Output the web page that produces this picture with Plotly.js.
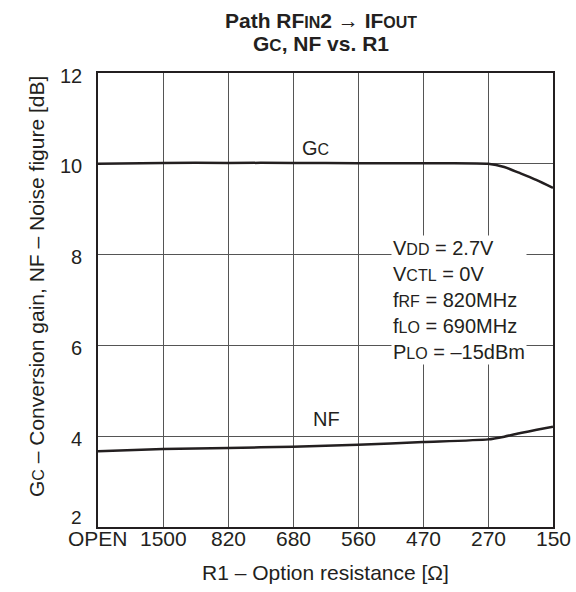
<!DOCTYPE html>
<html><head><meta charset="utf-8">
<script src="https://cdn.plot.ly/plotly-3.0.1.min.js"></script>
<style>body{margin:0;background:#fff}#c{width:576px;height:592px}</style>
</head><body><div id="c"></div>
<script>
const categories = ["OPEN","1500","820","680","560","470","270","150"];
const catPos = [0,1,2,3,4,5,6,7];
const gcX = [0,1,2,3,4,5,6,6.25,6.5,6.75,7];
const gcY = [10.0,10.02,10.02,10.02,10.01,10.01,10.0,9.93,9.79,9.64,9.47];
const nfX = [0,1,2,3,4,5,6,6.25,6.5,6.75,7];
const nfY = [3.67,3.72,3.74,3.77,3.81,3.87,3.93,3.99,4.07,4.14,4.21];
const yTicks = [2,4,6,8,10,12];
const sc = (t, s) => '<span style="font-size:' + (s || 15) + 'px">' + t + '</span>';
const ink = "#231f20";
const fam = "Liberation Sans, Arial, sans-serif";

const traces = [
  {x:gcX, y:gcY, mode:"lines", line:{color:ink, width:2.5, shape:"spline", smoothing:0.6}, hoverinfo:"skip"},
  {x:nfX, y:nfY, mode:"lines", line:{color:ink, width:2.5, shape:"spline", smoothing:0.6}, hoverinfo:"skip"}
];
const annotations = [
  {x:0.49, y:(527-20)/454, xref:"paper", yref:"paper", yanchor:"middle", height:22, borderpad:0,
   text:"<b>Path RF" + sc("<b>IN</b>", 16) + "2 → IF" + sc("<b>OUT</b>", 16) + "</b>",
   showarrow:false, font:{size:21}},
  {x:0.49, y:(527-43)/454, xref:"paper", yref:"paper", yanchor:"middle", height:22, borderpad:0,
   text:"<b>G" + sc("<b>C</b>", 17) + ", NF vs. R1</b>",
   showarrow:false, font:{size:21}},
  {x:0, y:0.5, xref:"paper", yref:"paper", xanchor:"center", yanchor:"middle", xshift:-62, yshift:13,
   textangle:-90, showarrow:false, font:{size:21},
   text:"G" + sc("C", 16) + " – Conversion gain, NF – Noise figure [dB]"},
  {x:3.35, y:10.35, xref:"x", yref:"y", text:"G" + sc("C", 16), showarrow:false, font:{size:20}},
  {x:3.52, y:4.38, xref:"x", yref:"y", text:"NF", showarrow:false, font:{size:20}},
  {x:4.5, y:7.0, xref:"x", yref:"y", xanchor:"left", yanchor:"middle", align:"left", showarrow:false,
   font:{size:20}, bgcolor:"#fff",
   text:"V" + sc("DD", 16) + " = 2.7V<br>V" + sc("CTL", 16) + " = 0V<br>f" + sc("RF", 16) + " = 820MHz<br>f" + sc("LO", 16) + " = 690MHz<br>P" + sc("LO", 16) + " = –15dBm"}
];
// x category labels drawn just under the axis line
catPos.forEach((p, i) => annotations.push({x:p, y:0, xref:"x", yref:"paper", yanchor:"middle", yshift:-11,
  height:18, borderpad:0, text:categories[i], showarrow:false, font:{size:21}}));
// y tick labels; the lowest one sits a little higher to clear the x labels
yTicks.forEach(v => annotations.push({x:0, y:v, xref:"paper", yref:"y", xanchor:"right", xshift:-15,
  yshift:(v === yTicks[0] ? 10 : -2), height:17, borderpad:0, text:String(v), showarrow:false,
  font:{size:(v === yTicks[0] ? 19 : 20)}}));

const layout = {
  width:576, height:592,
  margin:{l:98, r:23, t:73, b:65},
  paper_bgcolor:"#fff", plot_bgcolor:"#fff",
  showlegend:false, font:{family:fam, color:ink, size:20},
  xaxis:{range:[0,7], tickmode:"array", tickvals:catPos, showticklabels:false,
         showgrid:true, gridcolor:"#555", gridwidth:1, zeroline:false,
         showline:true, linecolor:ink, linewidth:2, mirror:true, ticks:"",
         title:{text:"R1 – Option resistance [Ω]", font:{size:21}, standoff:37}},
  yaxis:{range:[2,12], tickmode:"array", tickvals:yTicks, showticklabels:false,
         showgrid:true, gridcolor:"#555", gridwidth:1, zeroline:false,
         showline:true, linecolor:ink, linewidth:2, mirror:true, ticks:""},
  shapes:[{type:"rect", xref:"x", yref:"y", x0:4.4, x1:6.83, y0:5.65, y1:8.7, fillcolor:"#fff", line:{width:0}, layer:"below"}],
  annotations:annotations
};
Plotly.newPlot("c", traces, layout, {staticPlot:true, displayModeBar:false});
</script></body></html>
